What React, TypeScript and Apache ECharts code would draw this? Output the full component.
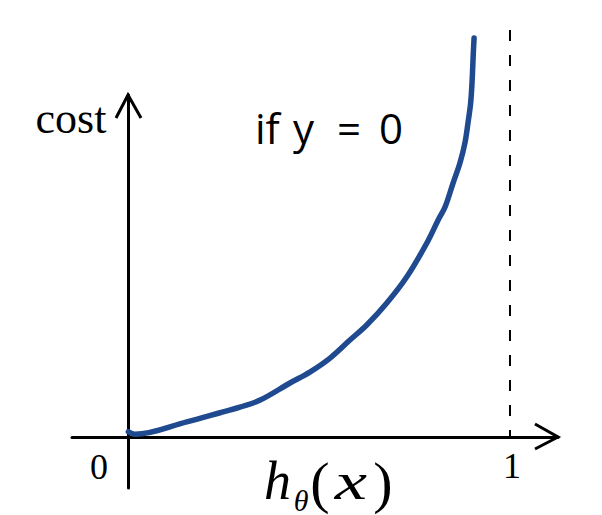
import React, { useEffect, useRef } from "react";
import * as echarts from "echarts";

// h_theta(x) values along the drawn curve
const hX = [0.001, 0.018, 0.154, 0.241, 0.293, 0.346, 0.424, 0.476, 0.529, 0.581, 0.625, 0.677, 0.73, 0.782, 0.812, 0.830, 0.851, 0.869, 0.882, 0.890, 0.897, 0.901, 0.904, 0.906];
// cost values
const cost = [0.031, 0.016, 0.089, 0.142, 0.175, 0.216, 0.316, 0.380, 0.462, 0.567, 0.655, 0.782, 0.937, 1.133, 1.269, 1.345, 1.485, 1.602, 1.719, 1.836, 1.953, 2.088, 2.246, 2.333];
// dashed asymptote at h = 1
const asymptoteX = [1, 1];
const asymptoteY = [2.38, 0];
// axis tick labels
const tickValues = [0, 1];
const tickLabels = ["0", "1"];

const X_MIN = -0.1466;
const X_MAX = 1.1257;
const Y_MIN = -0.298;
const Y_MAX = 2.0;

export default function App() {
  const ref = useRef<HTMLDivElement>(null);
  useEffect(() => {
    if (!ref.current) return;
    const chart = echarts.init(ref.current, null, { renderer: "svg" });
    const axisCommon = {
      type: "value" as const,
      axisLine: { show: true, onZero: true, lineStyle: { color: "#000", width: 3 } },
      axisTick: { show: false },
      axisLabel: { show: false },
      splitLine: { show: false },
    };
    chart.setOption({
      animation: false,
      backgroundColor: "#fff",
      grid: { left: 72, right: 44, top: 95, bottom: 27 },
      xAxis: { ...axisCommon, min: X_MIN, max: X_MAX },
      yAxis: { ...axisCommon, min: Y_MIN, max: Y_MAX },
      series: [
        {
          type: "line",
          data: asymptoteX.map((x, i) => [x, asymptoteY[i]]),
          showSymbol: false,
          clip: false,
          lineStyle: { color: "#000", width: 2, type: [11, 14] },
          z: 2,
        },
        {
          type: "line",
          data: hX.map((x, i) => [x, cost[i]]),
          smooth: 0.35,
          showSymbol: false,
          clip: false,
          lineStyle: { color: "#1f4a8f", width: 5.5, cap: "round", join: "round" },
          z: 3,
        },
      ],
    });
    const px = (x: number, y: number) => chart.convertToPixel({ gridIndex: 0 }, [x, y]) as number[];
    const o = px(0, 0);
    const xEnd = px(X_MAX, 0);
    const yEnd = px(0, Y_MAX);
    const serif = "'Liberation Serif', 'DejaVu Serif', serif";
    const sans = "'Open Sans', 'Liberation Sans', sans-serif";
    const graphic: any[] = [
      {
        type: "polyline",
        shape: { points: [[xEnd[0] - 23, o[1] - 13], [xEnd[0], o[1]], [xEnd[0] - 23, o[1] + 12]] },
        style: { stroke: "#000", lineWidth: 3, fill: "none", lineJoin: "miter" },
        z: 10,
      },
      {
        type: "polyline",
        shape: { points: [[o[0] - 12, yEnd[1] + 23], [o[0], yEnd[1]], [o[0] + 13, yEnd[1] + 23]] },
        style: { stroke: "#000", lineWidth: 3, fill: "none", lineJoin: "miter" },
        z: 10,
      },
      {
        type: "text",
        x: o[0] - 57,
        y: 118,
        style: { text: "cost", fontSize: 44, fontFamily: serif, fill: "#000", align: "center", verticalAlign: "middle" },
      },
      {
        type: "text",
        x: px(tickValues[0], 0)[0] - 29,
        y: 467,
        style: { text: tickLabels[0], fontSize: 36, fontFamily: serif, fill: "#000", align: "center", verticalAlign: "middle" },
      },
      {
        type: "text",
        x: px(tickValues[1], 0)[0] + 2,
        y: 466,
        style: { text: tickLabels[1], fontSize: 36, fontFamily: serif, fill: "#000", align: "center", verticalAlign: "middle" },
      },
      // "if y = 0"
      ...[
        ["if", 255],
        ["y", 293],
        ["=", 337],
        ["0", 379],
      ].map(([t, x]) => ({
        type: "text",
        x: x as number,
        y: 127,
        style: { text: t as string, fontSize: 42, fontFamily: sans, fill: "#000", align: "left", verticalAlign: "middle" },
      })),
      // h_theta(x)
      {
        type: "text",
        x: 264,
        y: 481,
        style: { text: "h", fontSize: 54, fontStyle: "italic", fontFamily: serif, fill: "#000", align: "left", verticalAlign: "middle" },
      },
      {
        type: "text",
        x: 301,
        y: 500,
        style: { text: "θ", fontSize: 30, fontStyle: "italic", fontFamily: serif, fill: "#000", align: "center", verticalAlign: "middle" },
      },
      {
        type: "text",
        x: 320,
        y: 482,
        style: { text: "(", fontSize: 58, fontFamily: serif, fill: "#000", align: "center", verticalAlign: "middle" },
      },
      {
        type: "text",
        x: 351,
        y: 482,
        scaleX: 1.4,
        style: { text: "x", fontSize: 52, fontStyle: "italic", fontFamily: serif, fill: "#000", align: "center", verticalAlign: "middle" },
      },
      {
        type: "text",
        x: 383,
        y: 482,
        style: { text: ")", fontSize: 58, fontFamily: serif, fill: "#000", align: "center", verticalAlign: "middle" },
      },
    ];
    chart.setOption({ graphic });
    return () => chart.dispose();
  }, []);
  return <div ref={ref} style={{ width: 602, height: 515, position: "absolute", left: 0, top: 0 }} />;
}
